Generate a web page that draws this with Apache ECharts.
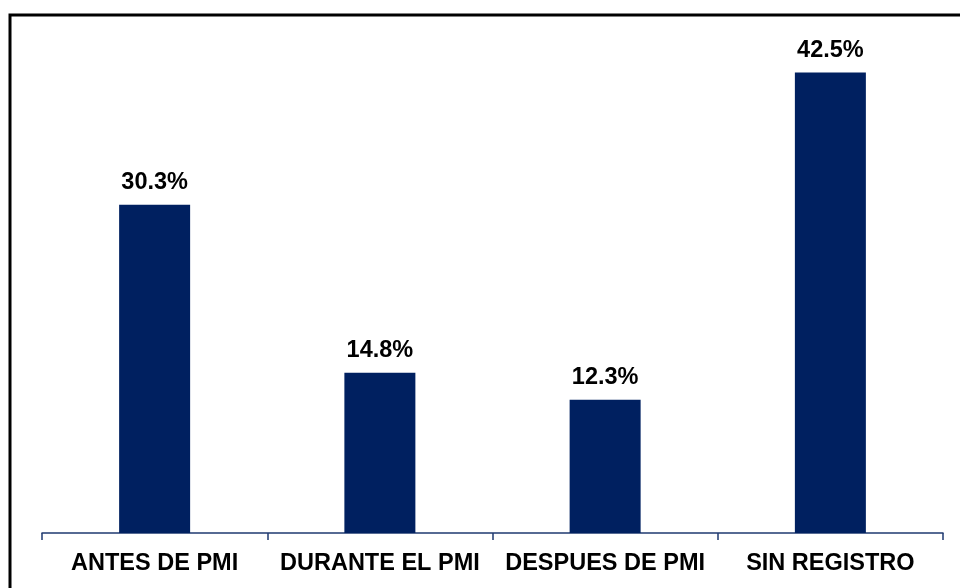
<!DOCTYPE html>
<html>
<head>
<meta charset="utf-8">
<style>
  html, body { margin: 0; padding: 0; background: #ffffff; }
  #chart { width: 960px; height: 588px; }
</style>
<script src="https://cdn.jsdelivr.net/npm/echarts@6/dist/echarts.min.js"></script>
</head>
<body>
<div id="chart"></div>
<script>
// Share of records by registration moment
const categories = ['ANTES DE PMI', 'DURANTE EL PMI', 'DESPUES DE PMI', 'SIN REGISTRO'];
const values = [30.3, 14.8, 12.3, 42.5];

const chart = echarts.init(document.getElementById('chart'), null, { renderer: 'canvas' });

chart.setOption({
  backgroundColor: '#ffffff',
  animation: false,
  graphic: [{
    type: 'rect',
    shape: { x: 10, y: 15, width: 1000, height: 700 },
    style: { fill: 'none', stroke: '#000000', lineWidth: 3 },
    silent: true,
    z: 10
  }],
  grid: { left: 42, right: 17, top: 45.5, bottom: 55, containLabel: false },
  xAxis: {
    type: 'category',
    data: categories,
    boundaryGap: true,
    axisLine: { show: true, lineStyle: { color: '#1f3a70', width: 1.5 } },
    axisTick: { show: true, length: 7, alignWithLabel: false, lineStyle: { color: '#1f3a70', width: 1.5 } },
    axisLabel: {
      margin: 19,
      color: '#000000',
      fontFamily: 'Liberation Sans, Arial, sans-serif',
      fontWeight: 'bold',
      fontSize: 23.5,
      interval: 0
    }
  },
  yAxis: {
    type: 'value',
    min: 0,
    max: 45,
    show: false,
    splitLine: { show: false }
  },
  series: [{
    type: 'bar',
    data: values,
    barWidth: 71,
    itemStyle: { color: '#002060' },
    label: {
      show: true,
      position: 'top',
      distance: 10,
      formatter: p => p.value.toFixed(1) + '%',
      color: '#000000',
      fontFamily: 'Liberation Sans, Arial, sans-serif',
      fontWeight: 'bold',
      fontSize: 23.5
    }
  }]
});
</script>
</body>
</html>
